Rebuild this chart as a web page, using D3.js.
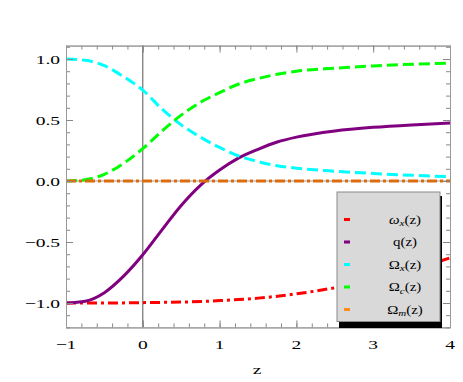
<!DOCTYPE html>
<html lang="en">
  <head>
    <meta charset="UTF-8" />
    <title>Density parameters vs z</title>
    <style>
      body { margin: 0; background: #fff; }
      text { font-family: "Liberation Serif", "DejaVu Serif", serif; fill: #000; }
    </style>
  </head>
  <body>
    <script src="https://cdn.jsdelivr.net/npm/d3@7/dist/d3.min.js"></script>
    <script>
      // values
      var zs      = [-1, -0.75, -0.5, -0.25, 0, 0.25, 0.5, 0.75, 1, 1.25, 1.5, 1.75, 2, 2.5, 3, 3.5, 4];
      var omegaX  = [-1, -1, -1, -0.999, -0.997, -0.995, -0.992, -0.988, -0.98, -0.972, -0.96, -0.945, -0.925, -0.875, -0.81, -0.73, -0.63];
      var qz      = [-1, -0.985, -0.915, -0.78, -0.605, -0.4, -0.2, -0.035, 0.09, 0.19, 0.26, 0.32, 0.36, 0.41, 0.44, 0.46, 0.475];
      var OmX     = [1, 0.99, 0.945, 0.855, 0.745, 0.59, 0.46, 0.36, 0.275, 0.205, 0.16, 0.125, 0.105, 0.08, 0.062, 0.047, 0.035];
      var OmC     = [0, 0.01, 0.055, 0.145, 0.265, 0.41, 0.54, 0.645, 0.725, 0.795, 0.84, 0.875, 0.9, 0.925, 0.943, 0.957, 0.967];
      var OmM     = [0, 0, 0, 0, 0, 0, 0, 0, 0, 0, 0, 0, 0, 0, 0, 0, 0];

      var xTicks = [-1, 0, 1, 2, 3, 4];
      var yTicks = [-1, -0.5, 0, 0.5, 1];

      var w = 463, h = 382;
      var svg = d3.select("body").append("svg")
                  .attr("width", w)
                  .attr("height", h);

      var xScale = d3.scaleLinear().domain([-1, 4]).range([66, 450]);
      var yScale = d3.scaleLinear().domain([-1.2, 1.11]).range([327.4, 45.6]);

      var x0 = xScale.range()[0], x1 = xScale.range()[1];
      var yTop = yScale.range()[1], yBot = yScale.range()[0];

      var minorX = d3.range(-1, 4.001, 0.2).map(function(d) { return +d.toFixed(2); });
      var minorY = d3.range(-1.2, 1.101, 0.1).map(function(d) { return +d.toFixed(2); });

      function fmt(d) {
        return d.toString().replace("-", "\u2212");
      }

      // zero lines
      svg.append("line")
         .attr("x1", x0).attr("x2", x1)
         .attr("y1", yScale(0)).attr("y2", yScale(0))
         .attr("stroke", "#999").attr("stroke-width", 1);
      svg.append("line")
         .attr("x1", xScale(0)).attr("x2", xScale(0))
         .attr("y1", yTop).attr("y2", yBot)
         .attr("stroke", "#555").attr("stroke-width", 1);

      // curves
      svg.append("clipPath").attr("id", "plot")
         .append("rect")
         .attr("x", x0).attr("y", yTop)
         .attr("width", x1 - x0).attr("height", yBot - yTop);

      var series = [
        { vals: omegaX, color: "#ff0000", dash: "10,4,3,4" },
        { vals: qz,     color: "#800080", dash: null },
        { vals: OmX,    color: "#00ffff", dash: "11,5" },
        { vals: OmC,    color: "#00ff00", dash: "11,5" },
        { vals: OmM,    color: "#dc6c0c", dash: "10,3,3,3" }
      ];

      var line = d3.line()
                   .x(function(d) { return xScale(d[0]); })
                   .y(function(d) { return yScale(d[1]); })
                   .curve(d3.curveMonotoneX);

      var curves = svg.append("g").attr("clip-path", "url(#plot)");
      series.forEach(function(s) {
        curves.append("path")
              .attr("d", line(zs.map(function(z, i) { return [z, s.vals[i]]; })))
              .attr("fill", "none")
              .attr("stroke", s.color)
              .attr("stroke-width", 3)
              .attr("stroke-dasharray", s.dash);
      });

      // axes: ticks inward, frame on all four sides
      function styleAxis(g) {
        g.select(".domain").attr("stroke", "#999");
        g.selectAll(".tick line").attr("stroke", "#888");
      }
      function frameAxis(axis, tx, ty, vals, size) {
        svg.append("g")
           .attr("transform", "translate(" + tx + "," + ty + ")")
           .call(axis.tickValues(vals).tickSize(size).tickSizeOuter(0).tickFormat(""))
           .call(styleAxis);
      }
      frameAxis(d3.axisBottom(xScale), 0, yBot, minorX, -4);
      frameAxis(d3.axisBottom(xScale), 0, yBot, xTicks, -7);
      frameAxis(d3.axisTop(xScale), 0, yTop, minorX, -4);
      frameAxis(d3.axisTop(xScale), 0, yTop, xTicks, -7);
      frameAxis(d3.axisLeft(yScale), x0, 0, minorY, -4);
      frameAxis(d3.axisLeft(yScale), x0, 0, yTicks, -7);
      frameAxis(d3.axisRight(yScale), x1, 0, minorY, -4);
      frameAxis(d3.axisRight(yScale), x1, 0, yTicks, -7);

      // tick labels (stretched horizontally like the reference)
      svg.append("g").selectAll("text")
         .data(xTicks)
         .enter()
         .append("text")
         .attr("transform", function(d) {
           return "translate(" + xScale(d) + "," + (yBot + 22) + ") scale(1.5,1)";
         })
         .attr("text-anchor", "middle")
         .attr("font-size", 13)
         .text(fmt);

      svg.append("g").selectAll("text")
         .data(yTicks)
         .enter()
         .append("text")
         .attr("transform", function(d) {
           return "translate(" + (x0 - 6) + "," + (yScale(d) + 4.5) + ") scale(1.5,1)";
         })
         .attr("text-anchor", "end")
         .attr("font-size", 13)
         .text(function(d) { return fmt(d3.format(".1f")(d)); });

      svg.append("text")
         .attr("transform", "translate(257,374) scale(1.5,1)")
         .attr("text-anchor", "middle")
         .attr("font-size", 13)
         .text("z");

      // legend
      var legend = [
        { sym: "\u03C9", sub: "x", italic: true,  color: "#ff0000" },
        { sym: "q",      sub: null, italic: false, color: "#800080" },
        { sym: "\u03A9", sub: "x", italic: false, color: "#00ffff" },
        { sym: "\u03A9", sub: "c", italic: false, color: "#00ff00" },
        { sym: "\u03A9", sub: "m", italic: false, color: "#ff8c1a" }
      ];

      var lg = svg.append("g");
      lg.append("rect")
        .attr("x", 339).attr("y", 196)
        .attr("width", 103).attr("height", 132)
        .attr("fill", "#000");
      lg.append("rect")
        .attr("x", 337).attr("y", 192)
        .attr("width", 103).attr("height", 129.5)
        .attr("fill", "#d9d9d9")
        .attr("stroke", "#8a8a8a")
        .attr("stroke-width", 1);

      legend.forEach(function(d, i) {
        var ly = 219.5 + i * 22.5;
        lg.append("rect")
          .attr("x", 344).attr("y", ly - 1.5)
          .attr("width", 6).attr("height", 3)
          .attr("fill", d.color);
        var t = lg.append("text")
          .attr("transform", "translate(405," + (ly + 4) + ") scale(1.3,1)")
          .attr("text-anchor", "middle")
          .attr("font-size", 11.5);
        t.append("tspan")
         .attr("font-style", d.italic ? "italic" : "normal")
         .text(d.sym);
        if (d.sub) {
          t.append("tspan")
           .attr("font-style", "italic")
           .attr("font-size", 8.5)
           .attr("dy", 2.5)
           .text(d.sub);
          t.append("tspan").attr("dy", -2.5).text("(z)");
        } else {
          t.append("tspan").text("(z)");
        }
      });
    </script>
  </body>
</html>
